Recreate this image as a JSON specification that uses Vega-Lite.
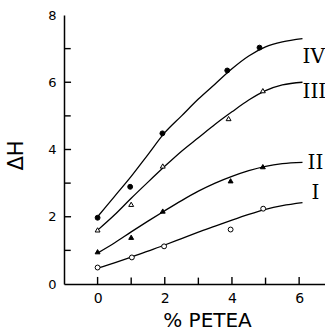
{
  "$schema": "https://vega.github.io/schema/vega-lite/v6.json",
  "width": 261,
  "height": 269,
  "autosize": "none",
  "padding": {"left": 64, "top": 15, "right": 0, "bottom": 46},
  "background": "white",
  "config": {
    "view": {"stroke": null},
    "axis": {
      "domainColor": "black",
      "domainWidth": 1.5,
      "tickColor": "black",
      "tickWidth": 1.3,
      "grid": false,
      "labelColor": "black",
      "titleColor": "black",
      "labelFont": "DejaVu Sans",
      "titleFont": "DejaVu Sans",
      "titleFontWeight": "normal"
    }
  },
  "datasets": {
    "curves": [
      {"x": 0, "y": 0.47, "s": "I"}, {"x": 0.5, "y": 0.63, "s": "I"}, {"x": 1, "y": 0.8, "s": "I"}, {"x": 1.5, "y": 0.98, "s": "I"}, {"x": 2, "y": 1.16, "s": "I"}, {"x": 2.5, "y": 1.35, "s": "I"}, {"x": 3, "y": 1.54, "s": "I"}, {"x": 3.5, "y": 1.72, "s": "I"}, {"x": 4, "y": 1.9, "s": "I"}, {"x": 4.5, "y": 2.07, "s": "I"}, {"x": 5, "y": 2.22, "s": "I"}, {"x": 5.5, "y": 2.33, "s": "I"}, {"x": 6.1, "y": 2.42, "s": "I"},
      {"x": 0, "y": 0.92, "s": "II"}, {"x": 0.5, "y": 1.22, "s": "II"}, {"x": 1, "y": 1.55, "s": "II"}, {"x": 1.5, "y": 1.87, "s": "II"}, {"x": 2, "y": 2.18, "s": "II"}, {"x": 2.5, "y": 2.48, "s": "II"}, {"x": 3, "y": 2.76, "s": "II"}, {"x": 3.5, "y": 3.0, "s": "II"}, {"x": 4, "y": 3.2, "s": "II"}, {"x": 4.5, "y": 3.37, "s": "II"}, {"x": 5, "y": 3.5, "s": "II"}, {"x": 5.5, "y": 3.58, "s": "II"}, {"x": 6.1, "y": 3.62, "s": "II"},
      {"x": 0, "y": 1.6, "s": "III"}, {"x": 0.5, "y": 2.05, "s": "III"}, {"x": 1, "y": 2.55, "s": "III"}, {"x": 1.5, "y": 3.03, "s": "III"}, {"x": 2, "y": 3.5, "s": "III"}, {"x": 2.5, "y": 3.95, "s": "III"}, {"x": 3, "y": 4.35, "s": "III"}, {"x": 3.5, "y": 4.75, "s": "III"}, {"x": 4, "y": 5.12, "s": "III"}, {"x": 4.5, "y": 5.47, "s": "III"}, {"x": 5, "y": 5.75, "s": "III"}, {"x": 5.5, "y": 5.92, "s": "III"}, {"x": 6.1, "y": 6.0, "s": "III"},
      {"x": 0, "y": 2.0, "s": "IV"}, {"x": 0.5, "y": 2.6, "s": "IV"}, {"x": 1, "y": 3.2, "s": "IV"}, {"x": 1.5, "y": 3.85, "s": "IV"}, {"x": 2, "y": 4.5, "s": "IV"}, {"x": 2.5, "y": 5.0, "s": "IV"}, {"x": 3, "y": 5.5, "s": "IV"}, {"x": 3.5, "y": 5.95, "s": "IV"}, {"x": 4, "y": 6.4, "s": "IV"}, {"x": 4.5, "y": 6.78, "s": "IV"}, {"x": 5, "y": 7.05, "s": "IV"}, {"x": 5.5, "y": 7.2, "s": "IV"}, {"x": 6.1, "y": 7.3, "s": "IV"}
    ],
    "points": [
      {"x": 0, "y": 0.49, "s": "I"}, {"x": 1.02, "y": 0.79, "s": "I"}, {"x": 1.98, "y": 1.12, "s": "I"}, {"x": 3.96, "y": 1.62, "s": "I"}, {"x": 4.93, "y": 2.24, "s": "I"},
      {"x": 0, "y": 0.96, "s": "II"}, {"x": 1, "y": 1.39, "s": "II"}, {"x": 1.94, "y": 2.17, "s": "II"}, {"x": 3.96, "y": 3.07, "s": "II"}, {"x": 4.92, "y": 3.49, "s": "II"},
      {"x": 0, "y": 1.61, "s": "III"}, {"x": 1, "y": 2.37, "s": "III"}, {"x": 1.94, "y": 3.51, "s": "III"}, {"x": 3.9, "y": 4.92, "s": "III"}, {"x": 4.92, "y": 5.75, "s": "III"},
      {"x": 0, "y": 1.97, "s": "IV"}, {"x": 0.97, "y": 2.89, "s": "IV"}, {"x": 1.93, "y": 4.48, "s": "IV"}, {"x": 3.86, "y": 6.35, "s": "IV"}, {"x": 4.82, "y": 7.03, "s": "IV"}
    ],
    "labels": [
      {"x": 6.1, "y": 6.76, "t": "IV"},
      {"x": 6.1, "y": 5.72, "t": "III"},
      {"x": 6.25, "y": 3.59, "t": "II"},
      {"x": 6.37, "y": 2.7, "t": "I"}
    ],
    "xticks": [
      {"v": 0, "lo": 0, "hi": 0.21}, {"v": 1, "lo": 0, "hi": 0.19}, {"v": 2, "lo": 0, "hi": 0.21}, {"v": 3, "lo": 0, "hi": 0.19},
      {"v": 4, "lo": 0, "hi": 0.21}, {"v": 5, "lo": 0, "hi": 0.19}, {"v": 6, "lo": 0, "hi": 0.21}
    ],
    "yticks": [
      {"v": 1, "lo": -1, "hi": -0.8}, {"v": 2, "lo": -1, "hi": -0.79}, {"v": 3, "lo": -1, "hi": -0.8}, {"v": 4, "lo": -1, "hi": -0.79},
      {"v": 5, "lo": -1, "hi": -0.8}, {"v": 6, "lo": -1, "hi": -0.79}, {"v": 7, "lo": -1, "hi": -0.8}
    ]
  },
  "layer": [
    {
      "mark": {"type": "rule", "color": "black", "strokeWidth": 1.5},
      "encoding": {"y": {"datum": 8, "type": "quantitative"}}
    },
    {
      "data": {"name": "curves"},
      "mark": {"type": "line", "interpolate": "monotone", "color": "black", "strokeWidth": 1.3},
      "encoding": {
        "x": {
          "field": "x", "type": "quantitative",
          "scale": {"domain": [-1, 6.77], "nice": false, "zero": false},
          "axis": {
            "values": [0, 2, 4, 6],
            "ticks": false,
            "tickSize": 0,
            "labelPadding": 7,
            "labelFontSize": 14,
            "title": "% PETEA",
            "titleFontSize": 20,
            "titleX": 143,
            "titlePadding": 5
          }
        },
        "y": {
          "field": "y", "type": "quantitative",
          "scale": {"domain": [0, 8], "nice": false},
          "axis": {
            "values": [0, 2, 4, 6, 8],
            "ticks": false,
            "tickSize": 0,
            "labelPadding": 8,
            "labelFontSize": 13,
            "title": "ΔH",
            "titleFontSize": 21,
            "titlePadding": 21,
            "titleY": 140
          }
        },
        "detail": {"field": "s"}
      }
    },
    {
      "data": {"name": "xticks"},
      "mark": {"type": "rule", "color": "black", "strokeWidth": 1.4},
      "encoding": {
        "x": {"field": "v", "type": "quantitative"},
        "y": {"field": "lo", "type": "quantitative"},
        "y2": {"field": "hi"}
      }
    },
    {
      "data": {"name": "yticks"},
      "mark": {"type": "rule", "color": "black", "strokeWidth": 1.4},
      "encoding": {
        "y": {"field": "v", "type": "quantitative"},
        "x": {"field": "lo", "type": "quantitative"},
        "x2": {"field": "hi"}
      }
    },
    {
      "data": {"name": "points"},
      "mark": {"type": "point", "strokeWidth": 1, "stroke": "black", "opacity": 1},
      "encoding": {
        "x": {"field": "x", "type": "quantitative"},
        "y": {"field": "y", "type": "quantitative"},
        "shape": {
          "field": "s", "type": "nominal",
          "scale": {"domain": ["I", "II", "III", "IV"], "range": ["circle", "triangle-up", "triangle-up", "circle"]},
          "legend": null
        },
        "fill": {
          "field": "s", "type": "nominal",
          "scale": {"domain": ["I", "II", "III", "IV"], "range": ["white", "black", "white", "black"]},
          "legend": null
        },
        "size": {"value": 24}
      }
    },
    {
      "data": {"name": "labels"},
      "mark": {"type": "text", "align": "left", "baseline": "middle", "font": "DejaVu Serif", "fontSize": 20, "color": "black"},
      "encoding": {
        "x": {"field": "x", "type": "quantitative"},
        "y": {"field": "y", "type": "quantitative"},
        "text": {"field": "t"}
      }
    }
  ]
}
